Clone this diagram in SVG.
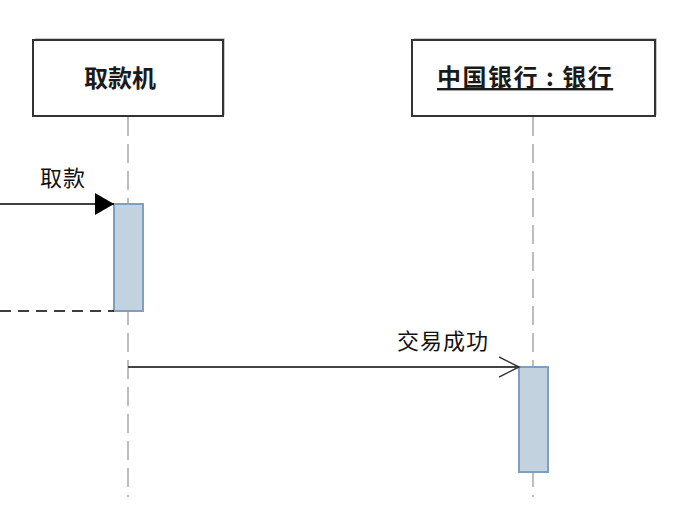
<svg xmlns="http://www.w3.org/2000/svg" width="678" height="509" viewBox="0 0 678 509">
<style>
.box{fill:#fff;stroke:#333;stroke-width:2}
.shadow{fill:none;stroke:#c8c8c8;stroke-width:2}
.life{stroke:#bdbdbd;stroke-width:2;stroke-dasharray:19 8;fill:none}
.act{fill:#c2d2df;stroke:#7f9fbd;stroke-width:2}
.title{font-family:"Noto Sans CJK SC","Liberation Sans",sans-serif;font-size:24px;font-weight:bold;fill:#1a1a1a}
.lbl{font-family:"Noto Sans CJK SC","Liberation Sans",sans-serif;font-size:22px;letter-spacing:1px;fill:#111}
.msg{stroke:#000;stroke-width:1.5;fill:none}
</style>
<defs>
<marker id="filled" markerWidth="22" markerHeight="24" refX="19" refY="11" orient="auto" markerUnits="userSpaceOnUse">
<path d="M0,0 L19,11 L0,22 Z" fill="#000"/>
</marker>
<marker id="open" markerWidth="24" markerHeight="24" refX="20" refY="11" orient="auto" markerUnits="userSpaceOnUse">
<path d="M0,1 L20,11 L0,21" fill="none" stroke="#333" stroke-width="1.5"/>
</marker>
</defs>
<rect width="678" height="509" fill="#fff"/>
<g id="lifeline-atm">
<line class="life" x1="128" y1="117" x2="128" y2="497"/>
<path class="shadow" d="M35,39 H224 V115"/>
<rect class="box" x="33" y="40" width="190" height="76"/>
<text class="title" x="120" y="87" text-anchor="middle">取款机</text>
</g>
<g id="lifeline-bank">
<line class="life" x1="533" y1="117" x2="533" y2="497"/>
<path class="shadow" d="M414,39 H656 V115"/>
<rect class="box" x="412" y="40" width="243" height="76"/>
<text class="title" x="437" y="86" letter-spacing="1.5" text-decoration="underline">中国银行 : 银行</text>
</g>
<g id="activation-atm">
<rect class="act" x="114" y="204" width="29" height="107"/>
</g>
<g id="activation-bank">
<rect class="act" x="519" y="367" width="29" height="105"/>
</g>
<g id="connectors">
<line class="msg" x1="0" y1="204" x2="114" y2="204" marker-end="url(#filled)"/>
<text class="lbl" x="40" y="186">取款</text>
<line class="msg" x1="0" y1="311" x2="114" y2="311" stroke-dasharray="11 7" stroke-width="2"/>
<line x1="128" y1="367" x2="519" y2="367" stroke="#444" stroke-width="2" marker-end="url(#open)"/>
<text class="lbl" x="397" y="349">交易成功</text>
</g>
</svg>
